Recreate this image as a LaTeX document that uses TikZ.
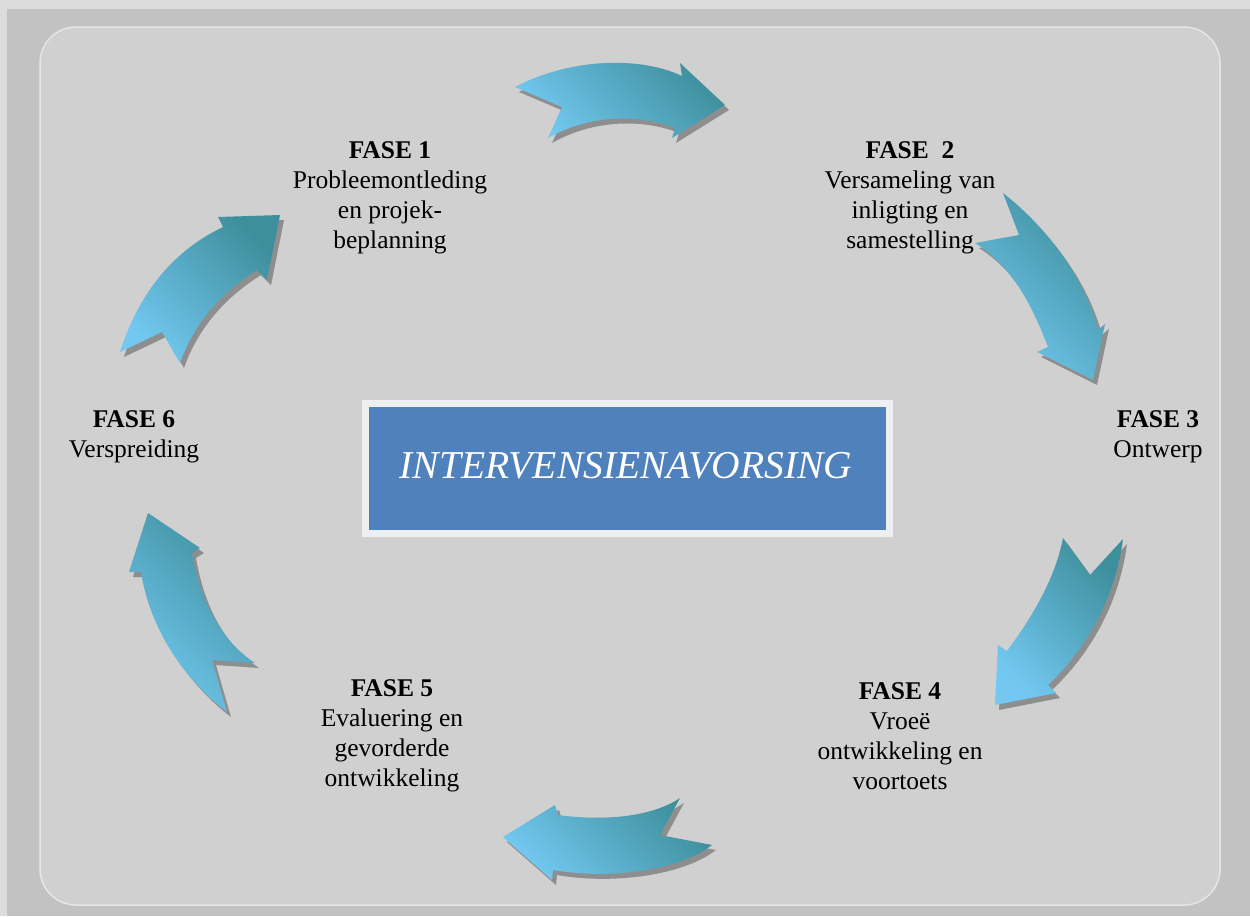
\documentclass[tikz,border=0pt]{standalone}
\usepackage{fontspec}
\setmainfont{Liberation Serif}
\definecolor{pagetop}{HTML}{DCDCDC}
\definecolor{outergray}{HTML}{C2C2C2}
\definecolor{innergray}{HTML}{D0D0D0}
\definecolor{rimgray}{HTML}{E6E6E6}
\definecolor{boxblue}{HTML}{4F81BD}
\definecolor{boxrim}{HTML}{EEEFF0}
\definecolor{arrlight}{HTML}{72C8F0}
\definecolor{arrdark}{HTML}{3E8F9C}
\definecolor{shadowgray}{HTML}{8E8E8E}
\begin{document}
\begin{tikzpicture}[x=1pt,y=-1pt,
  bluearrow/.style={top color=arrdark, bottom color=arrlight, shading angle=-45,
    preaction={fill=shadowgray, transform canvas={xshift=4pt,yshift=-5pt}}},
  phase/.style={align=center, inner sep=0pt, font=\fontsize{25.5}{30}\selectfont},
  title/.style={font=\fontsize{39.5}{44}\selectfont\itshape, text=white}]
% background
\fill[pagetop] (0,0) rectangle (1250,916);
\fill[outergray] (7,9) rectangle (1250,916);
\fill[innergray, draw=rimgray, line width=1.5pt, rounded corners=36pt] (40,27) rectangle (1220,905);
% central box
\fill[boxrim] (362,400) rectangle (893,537);
\node[fill=boxblue, minimum width=517pt, minimum height=123pt, inner sep=0pt] (core) at (627.5,468.5) {};
\node[title] (coretext) at (626,466) {INTERVENSIENAVORSING};
% phase labels
\node[phase] (f1) at (390,198) {\textbf{FASE 1}\\Probleemontleding\\en projek-\\beplanning};
\node[phase] (f2) at (910,198) {\textbf{FASE\ \ 2}\\Versameling van\\inligting en\\samestelling};
\node[phase] (f3) at (1158,437) {\textbf{FASE 3}\\Ontwerp};
\node[phase] (f4) at (900,736) {\textbf{FASE 4}\\Vroeë\\ontwikkeling en\\voortoets};
\node[phase] (f5) at (392,736) {\textbf{FASE 5}\\Evaluering en\\gevorderde\\ontwikkeling};
\node[phase] (f6) at (134,437) {\textbf{FASE 6}\\Verspreiding};
% arrow 1 (top)
\path[bluearrow] (515,87) .. controls (570,58) and (640,56) .. (682,76)
  -- (680,63) -- (725,105) -- (672,138) -- (675,128)
  .. controls (640,114) and (590,114) .. (548,138) -- (562,107) -- cycle;
% arrow 2 (upper right)
\path[bluearrow] (1003,193) .. controls (1050,230) and (1085,280) .. (1098,330)
  -- (1105,324) -- (1093,380) -- (1037,352) -- (1048,347)
  .. controls (1030,300) and (1010,265) .. (975,243) -- (1019,235) -- cycle;
% arrow 3 (lower right)
\path[bluearrow] (1123,539) .. controls (1115,600) and (1085,650) .. (1048,685)
  -- (1056,693) -- (995,705) -- (998,645) -- (1007,651)
  .. controls (1030,620) and (1055,580) .. (1063,538) -- (1090,575) -- cycle;
% arrow 4 (bottom)
\path[bluearrow] (712,845) .. controls (680,870) and (610,880) .. (553,870)
  -- (552,880) -- (503,837) -- (555,805) -- (558,815)
  .. controls (610,822) and (655,815) .. (680,798) -- (660,835) -- cycle;
% arrow 5 (lower left)
\path[bluearrow] (227,712) .. controls (185,680) and (150,630) .. (141,572)
  -- (129,572) -- (148,513) -- (200,548) -- (192,553)
  .. controls (200,600) and (220,640) .. (255,663) -- (212,660) -- cycle;
% arrow 6 (upper left)
\path[bluearrow] (120,352) .. controls (140,290) and (175,250) .. (223,227)
  -- (218,217) -- (280,215) -- (267,280) -- (257,270)
  .. controls (225,290) and (195,320) .. (180,363) -- (162,332) -- cycle;
\end{tikzpicture}
\end{document}
